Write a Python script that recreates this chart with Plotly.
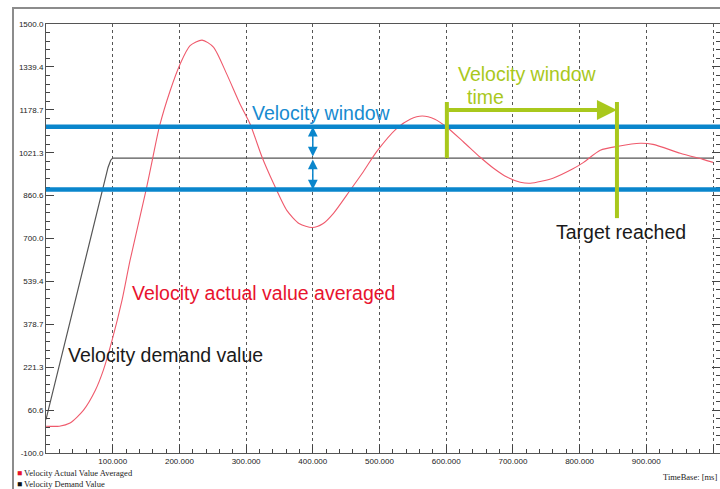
import plotly.graph_objects as go

# ---------------- data ----------------
actual_t = [0, 20, 36, 56, 74, 86, 99, 114, 126, 150, 160, 170, 186, 201, 216, 234, 251, 271, 291,
            306, 324, 341, 361, 380, 399, 415, 431, 456, 476, 496, 526, 546, 564, 583, 601, 626,
            651, 671, 691, 711, 726, 760, 790, 806, 831, 858, 891, 910, 951, 985, 1000]
actual_v = [0, 0, 12, 59, 134, 209, 320, 470, 618, 880, 1000, 1117, 1250, 1350, 1419, 1440, 1414,
            1313, 1201, 1127, 1003, 906, 805, 755, 741, 755, 794, 880, 950, 1025, 1111, 1145, 1157,
            1145, 1115, 1060, 1003, 962, 929, 910, 906, 925, 960, 984, 1029, 1044, 1055, 1051, 1018,
            995, 984]

demand_t = [0, 93, 97, 100, 1000]
demand_v = [25, 965, 992, 1000, 1000]

window_upper = 1117
window_lower = 883
demand_level = 1000
window_start_t = 601
target_t = 856
green_top_v = 1209
green_arrow_v = 1179
target_bottom_v = 776
blue_arrow_t = 400

x_tick_vals = [100, 200, 300, 400, 500, 600, 700, 800, 900, 1000]
x_tick_text = ["100.000", "200.000", "300.000", "400.000", "500.000", "600.000",
               "700.000", "800.000", "900.000", ""]
y_tick_vals = [-100, 60, 220, 380, 540, 700, 860, 1020, 1180, 1340, 1500]
y_tick_text = ["-100.0", "60.6", "221.3", "378.7", "539.4", "700.0", "860.6",
               "1021.3", "1178.7", "1339.4", "1500.0"]

# ---------------- layout helpers ----------------
W, H = 720, 489
PL, PT, PR, PB = 46, 24, 720, 453   # plot area in pixels


def px(x):
    return (x - PL) / (PR - PL)


def py(y):
    return (PB - y) / (PB - PT)


BLUE = "#0a86cc"
GREEN = "#a9c81c"
RED_LINE = "#ef5a6c"
RED_TEXT = "#e8132e"
TXT = "Liberation Sans, Arial, sans-serif"
SMALL = "Liberation Sans Narrow, Arial Narrow, Liberation Sans, sans-serif"

fig = go.Figure()
fig.add_trace(go.Scatter(x=demand_t, y=demand_v, mode="lines",
                         line=dict(color="#555555", width=1.2), hoverinfo="skip"))
fig.add_trace(go.Scatter(x=actual_t, y=actual_v, mode="lines",
                         line=dict(color=RED_LINE, width=1.1, shape="spline", smoothing=0.7),
                         hoverinfo="skip"))

shapes = []
for v in (window_upper, window_lower):
    shapes.append(dict(type="line", xref="paper", yref="y", x0=0, x1=1, y0=v, y1=v,
                       line=dict(color=BLUE, width=4.5)))
shapes.append(dict(type="line", xref="x", yref="y", x0=window_start_t, x1=window_start_t,
                   y0=demand_level, y1=green_top_v, line=dict(color=GREEN, width=4)))
shapes.append(dict(type="line", xref="x", yref="y", x0=target_t, x1=target_t,
                   y0=target_bottom_v, y1=green_top_v, line=dict(color=GREEN, width=4)))
shapes.append(dict(type="rect", xref="paper", yref="paper", x0=px(13), x1=px(740),
                   y0=py(500), y1=py(8), line=dict(color="#8c8c8c", width=2),
                   fillcolor="rgba(0,0,0,0)", layer="below"))

annotations = []
for v in (window_upper, window_lower):
    annotations.append(dict(x=blue_arrow_t, y=v, ax=blue_arrow_t, ay=demand_level,
                            xref="x", yref="y", axref="x", ayref="y", text="",
                            showarrow=True, arrowhead=2, startarrowhead=2,
                            arrowside="end+start", arrowsize=1.3, startarrowsize=1.3,
                            arrowwidth=1.5, arrowcolor=BLUE, standoff=0, startstandoff=0))
annotations.append(dict(x=target_t, y=green_arrow_v, ax=window_start_t, ay=green_arrow_v,
                        xref="x", yref="y", axref="x", ayref="y", text="",
                        showarrow=True, arrowhead=2, arrowsize=1.0, arrowwidth=4,
                        arrowcolor=GREEN, standoff=0))


def label(text, x, y, color, size=19.5, font=TXT, xanchor="left"):
    annotations.append(dict(text=text, x=px(x), y=py(y), xref="paper", yref="paper",
                            xanchor=xanchor, yanchor="middle", showarrow=False,
                            font=dict(family=font, size=size, color=color)))


label("Velocity window", 250, 113, "#178bd0")
label("Velocity window", 456, 74, GREEN)
label("time", 465, 97, GREEN)
label("Target reached", 554, 232, "#1a1a1a")
label("Velocity actual value averaged", 130, 293, RED_TEXT)
label("Velocity demand value", 66, 355, "#1a1a1a")
label("<span style='color:#e8132e'>■</span> Velocity Actual Value Averaged", 15, 473,
      "#222222", size=8.5, font="Liberation Serif, serif")
label("<span style='color:#111111'>■</span> Velocity Demand Value", 15, 483.5,
      "#222222", size=8.5, font="Liberation Serif, serif")
label("TimeBase: [ms]", 719, 477, "#222222", size=8.5, font="Liberation Serif, serif",
      xanchor="right")

fig.update_layout(
    width=W, height=H,
    margin=dict(l=PL, r=W - PR, t=PT, b=H - PB, pad=0),
    paper_bgcolor="white", plot_bgcolor="white",
    showlegend=False,
    shapes=shapes, annotations=annotations,
    xaxis=dict(range=[0, 1000 * (PR - PL) / (713 - PL)], tickmode="array",
               tickvals=x_tick_vals, ticktext=x_tick_text,
               ticks="inside", ticklen=8, tickcolor="#444", tickwidth=1,
               showline=True, linecolor="#555555", linewidth=1, mirror=True,
               showgrid=True, gridcolor="#555555", griddash="dot", gridwidth=1,
               zeroline=False,
               tickfont=dict(family=SMALL, size=8, color="#222222"),
               minor=dict(dtick=20, tick0=0, ticks="inside", ticklen=4,
                          tickcolor="#444", showgrid=False)),
    yaxis=dict(range=[-100, 1500], tickmode="array",
               tickvals=y_tick_vals, ticktext=y_tick_text,
               ticks="inside", ticklen=8, tickcolor="#444", tickwidth=1,
               showline=True, linecolor="#555555", linewidth=1, mirror="ticks",
               showgrid=False, zeroline=False,
               tickfont=dict(family=SMALL, size=8, color="#222222"),
               minor=dict(dtick=32, tick0=-100, ticks="inside", ticklen=4,
                          tickcolor="#444", showgrid=False)),
)

fig.write_html("out.html",
               config={"displayModeBar": False},
               post_script="document.body.style.margin='0px';"
                           "document.body.style.overflow='hidden';")
